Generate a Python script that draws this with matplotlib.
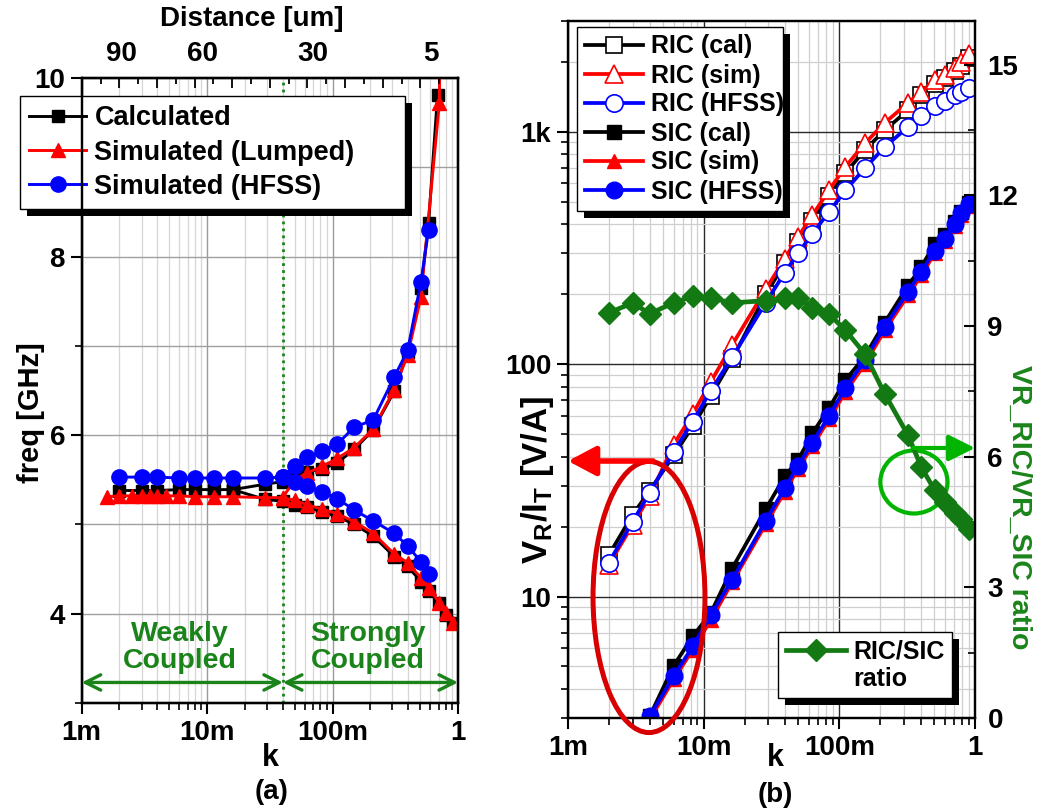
import numpy as np
import matplotlib
matplotlib.use('Agg')
import matplotlib.pyplot as plt
from matplotlib.ticker import (FixedLocator, FuncFormatter, MultipleLocator,
                               LogLocator, NullFormatter, NullLocator)
from matplotlib.patches import Ellipse, Rectangle
from matplotlib.lines import Line2D
from matplotlib.transforms import IdentityTransform

plt.rcParams['font.family'] = ['Liberation Sans', 'DejaVu Sans']
plt.rcParams['font.weight'] = 'bold'
plt.rcParams['mathtext.fontset'] = 'custom'
plt.rcParams['mathtext.rm'] = 'Liberation Sans:bold'
plt.rcParams['mathtext.bf'] = 'Liberation Sans:bold'
plt.rcParams['mathtext.it'] = 'Liberation Sans:bold'

# ---------------- Panel (a) data ----------------
calc_flat_k = [0.002, 0.003, 0.004, 0.006, 0.008, 0.0113, 0.016]
calc_flat_f = [5.38, 5.38, 5.38, 5.39, 5.39, 5.39, 5.39]
calc_up_k = [0.016, 0.029, 0.040, 0.050, 0.063, 0.083, 0.109, 0.149, 0.211, 0.310, 0.397, 0.507, 0.583, 0.687]
calc_up_f = [5.39, 5.45, 5.48, 5.52, 5.59, 5.62, 5.69, 5.84, 6.06, 6.49, 6.93, 7.65, 8.38, 9.81]
calc_lo_k = [0.016, 0.029, 0.040, 0.050, 0.063, 0.083, 0.109, 0.149, 0.211, 0.310, 0.397, 0.507, 0.583, 0.710, 0.800, 0.920]
calc_lo_f = [5.39, 5.28, 5.26, 5.22, 5.19, 5.14, 5.09, 5.00, 4.87, 4.64, 4.53, 4.36, 4.25, 4.12, 3.99, 3.90]

sim_flat_k = [0.0016, 0.002, 0.0025, 0.003, 0.0035, 0.004, 0.0047, 0.006, 0.008, 0.0113, 0.016, 0.029, 0.040]
sim_flat_f = [5.31, 5.32, 5.32, 5.32, 5.32, 5.32, 5.32, 5.32, 5.31, 5.31, 5.31, 5.30, 5.30]
sim_up_k = [0.040, 0.050, 0.063, 0.083, 0.109, 0.149, 0.211, 0.310, 0.397, 0.507, 0.710, 0.728]
sim_up_f = [5.30, 5.50, 5.58, 5.65, 5.74, 5.86, 6.07, 6.51, 6.90, 7.55, 9.72, 11.5]
sim_lo_k = [0.040, 0.050, 0.063, 0.083, 0.109, 0.149, 0.211, 0.310, 0.397, 0.507, 0.583, 0.710, 0.800, 0.920]
sim_lo_f = [5.30, 5.27, 5.22, 5.17, 5.12, 5.03, 4.90, 4.67, 4.57, 4.40, 4.29, 4.12, 4.01, 3.90]

hfss_flat_k = [0.002, 0.003, 0.004, 0.006, 0.008, 0.0113, 0.016, 0.029, 0.040]
hfss_flat_f = [5.53, 5.53, 5.53, 5.52, 5.52, 5.52, 5.52, 5.52, 5.53]
hfss_up_k = [0.040, 0.050, 0.063, 0.083, 0.109, 0.149, 0.211, 0.310, 0.397, 0.507, 0.583]
hfss_up_f = [5.53, 5.66, 5.75, 5.82, 5.90, 6.09, 6.17, 6.65, 6.95, 7.72, 8.30]
hfss_lo_k = [0.040, 0.050, 0.063, 0.083, 0.109, 0.149, 0.211, 0.310, 0.397, 0.507, 0.590]
hfss_lo_f = [5.53, 5.47, 5.43, 5.36, 5.29, 5.16, 5.04, 4.90, 4.76, 4.58, 4.44]

boundary_k = 0.0402
top_tick_k = [0.00208, 0.0092, 0.0697, 0.605]
top_tick_labels = ['90', '60', '30', '5']

# ---------------- Panel (b) data ----------------
kk = [0.002, 0.003, 0.004, 0.006, 0.0083, 0.0113, 0.0162, 0.0287, 0.0396, 0.0497, 0.0634,
      0.084, 0.111, 0.154, 0.216, 0.321, 0.402, 0.504, 0.597, 0.708, 0.792, 0.91]
ric_cal = [15.1, 22.5, 28.5, 40.5, 54, 73, 105, 200, 272, 335, 415, 530, 665, 835, 1016, 1240,
           1440, 1600, 1700, 1820, 1930, 2080]
ric_sim = [13.7, 20.4, 27, 45, 61, 84, 121, 210, 285, 353, 438, 561, 708, 891, 1093, 1333,
           1486, 1668, 1753, 1874, 2000, 2173]
ric_hfss = [14.0, 21, 28, 42, 56.6, 77, 107, 184, 248, 300, 365, 453, 561, 697, 861, 1050,
            1169, 1290, 1360, 1440, 1486, 1537]
sic_k = [0.004, 0.006, 0.0083, 0.0113, 0.0162, 0.0287, 0.0396, 0.0497, 0.0634, 0.084, 0.111,
         0.154, 0.216, 0.321, 0.402, 0.504, 0.597, 0.708, 0.792, 0.91]
sic_cal = [3.05, 5.03, 6.73, 8.5, 13.2, 23.8, 32.9, 38.7, 50.5, 64.7, 85.5, 108, 151, 218, 262,
           330, 360, 410, 450, 492]
sic_sim = [2.95, 4.40, 5.9, 7.94, 11.5, 20.5, 28.3, 35.5, 44.5, 58, 76, 100, 140, 198, 242,
           300, 340, 393, 438, 480]
sic_hfss = [3.05, 4.53, 6.1, 8.34, 11.8, 21.2, 29.3, 36.6, 46, 59.9, 78.8, 104, 145, 205, 250,
            308, 347, 401, 446, 489]
ratio = [9.30, 9.53, 9.28, 9.53, 9.68, 9.64, 9.53, 9.58, 9.64, 9.64, 9.42, 9.27, 8.90, 8.36,
         7.44, 6.49, 5.76, 5.23, 4.95, 4.70, 4.57, 4.33]

GREEN = '#1a841a'
DKGREEN = '#137a13'
W, H = 1037, 811


def kfmt(v, pos=None):
    if v < 1:
        return f'{v*1000:g}m'
    if v >= 1000:
        return f'{v/1000:g}k'
    return f'{v:g}'


fig = plt.figure(figsize=(W / 100, H / 100), dpi=100)
axA = fig.add_axes([81.7 / W, 1 - 703 / H, (458 - 81.7) / W, (703 - 78) / H])
axB = fig.add_axes([568 / W, 1 - 718 / H, (975 - 568) / W, (718 - 21) / H])

# ================= Panel (a) =================
axA.set_xscale('log')
axA.set_xlim(1e-3, 1)
axA.set_ylim(3, 10)
axA.set_axisbelow(True)
axA.xaxis.set_major_locator(LogLocator(base=10, numticks=10))
axA.xaxis.set_minor_locator(LogLocator(base=10, subs=np.arange(2, 10), numticks=10))
axA.xaxis.set_major_formatter(FuncFormatter(kfmt))
axA.xaxis.set_minor_formatter(NullFormatter())
axA.yaxis.set_major_locator(MultipleLocator(2))
axA.yaxis.set_minor_locator(MultipleLocator(1))
axA.grid(which='major', axis='x', color='#9a9a9a', lw=1.0)
axA.grid(which='minor', axis='x', color='#d6d6d6', lw=0.9)
axA.grid(which='both', axis='y', color='#a0a0a0', lw=1.0)
axA.tick_params(which='major', direction='out', length=8, width=1.5, labelsize=20, pad=4)
axA.tick_params(which='minor', direction='out', length=5, width=1.2)
for s in axA.spines.values():
    s.set_linewidth(1.6)

axA.axvline(boundary_k, color=GREEN, lw=2, ls=(0, (1, 1.5)), zorder=1.5)

lw_a = 2.1
sty_c = dict(color='black', marker='s', ms=9, lw=lw_a)
sty_s = dict(color='red', marker='^', ms=10.5, lw=lw_a)
sty_h = dict(color='blue', marker='o', ms=11, lw=lw_a)
axA.plot(calc_flat_k, calc_flat_f, label='Calculated', **sty_c)
axA.plot(calc_up_k, calc_up_f, **sty_c)
axA.plot(calc_lo_k, calc_lo_f, **sty_c)
axA.plot(sim_flat_k, sim_flat_f, label='Simulated (Lumped)', **sty_s)
axA.plot(sim_up_k, sim_up_f, **sty_s)
axA.plot(sim_lo_k, sim_lo_f, **sty_s)
axA.plot(hfss_flat_k, hfss_flat_f, label='Simulated (HFSS)', **sty_h)
axA.plot(hfss_up_k, hfss_up_f, **sty_h)
axA.plot(hfss_lo_k, hfss_lo_f, **sty_h)

# coupling arrows and texts
arr = dict(arrowstyle='<->,head_length=1.1,head_width=0.55', color=GREEN, lw=2.4,
           shrinkA=0, shrinkB=0)
axA.annotate('', xy=(1e-3, 3.23), xytext=(boundary_k, 3.23), arrowprops=arr)
axA.annotate('', xy=(1.0, 3.23), xytext=(boundary_k, 3.23), arrowprops=arr)
axA.text(0.00607, 3.62, 'Weakly\nCoupled', color=GREEN, fontsize=20.5, ha='center',
         va='center', linespacing=1.05)
axA.text(0.19, 3.62, 'Strongly\nCoupled', color=GREEN, fontsize=20.5, ha='center',
         va='center', linespacing=1.05)

# top distance axis
twA = axA.twiny()
twA.set_xscale('log')
twA.set_xlim(1e-3, 1)
twA.xaxis.set_major_locator(FixedLocator(top_tick_k))
twA.xaxis.set_major_formatter(FuncFormatter(
    lambda v, p: top_tick_labels[p] if p is not None and p < len(top_tick_labels) else ''))
long_ticks = [10 ** (-3 + 0.3 * i) for i in range(11)]
twA.xaxis.set_minor_locator(FixedLocator(long_ticks))
twA.xaxis.set_minor_formatter(NullFormatter())
twA.tick_params(which='major', length=0, labelsize=20, pad=8)
twA.tick_params(which='minor', direction='in', length=7, width=1.3)
twB = axA.twiny()
twB.set_xscale('log')
twB.set_xlim(1e-3, 1)
twB.xaxis.set_major_locator(NullLocator())
short_ticks = [10 ** (-2.85 + 0.3 * i) for i in range(10)]
twB.xaxis.set_minor_locator(FixedLocator(short_ticks))
twB.xaxis.set_minor_formatter(NullFormatter())
twB.tick_params(which='minor', direction='in', length=4, width=1.3)
for t in (twA, twB):
    for s in t.spines.values():
        s.set_linewidth(1.6)

fig.text(252 / W, 1 - 19 / H, 'Distance [um]', fontsize=20, ha='center', va='center')
fig.text(31 / W, 1 - 413 / H, 'freq [GHz]', fontsize=21, rotation=90, ha='center', va='center')
fig.text(270 / W, 1 - 758 / H, 'k', fontsize=22, ha='center', va='center')
fig.text(272 / W, 1 - 792 / H, '(a)', fontsize=20, ha='center', va='center')

legA = axA.legend(loc='upper left', bbox_to_anchor=(20 / W, 1 - 210 / H, 385 / W, 114 / H),
                  bbox_transform=fig.transFigure, mode='expand', borderaxespad=0,
                  fontsize=19.5, fancybox=False, framealpha=1, edgecolor='black',
                  handlelength=2.1, handletextpad=0.3, labelspacing=0.3, borderpad=0.35)
legA.get_frame().set_linewidth(1.0)

# ================= Panel (b) =================
axB2 = axB.twinx()

axB.set_xscale('log')
axB.set_yscale('log')
axB.set_xlim(1e-3, 1)
axB.set_ylim(3, 3000)
axB.set_axisbelow(True)
axB.xaxis.set_major_locator(LogLocator(base=10, numticks=10))
axB.xaxis.set_minor_locator(LogLocator(base=10, subs=np.arange(2, 10), numticks=10))
axB.xaxis.set_major_formatter(FuncFormatter(kfmt))
axB.xaxis.set_minor_formatter(NullFormatter())
axB.yaxis.set_major_locator(FixedLocator([10, 100, 1000]))
axB.yaxis.set_minor_locator(LogLocator(base=10, subs=np.arange(2, 10), numticks=10))
axB.yaxis.set_major_formatter(FuncFormatter(kfmt))
axB.yaxis.set_minor_formatter(NullFormatter())
axB.grid(which='major', color='#2a2a2a', lw=1.0)
axB.grid(which='minor', color='#cfcfcf', lw=0.9)
axB.tick_params(which='major', direction='out', length=8, width=1.5, labelsize=20, pad=4)
axB.tick_params(which='minor', direction='out', length=5, width=1.2)
for s in axB.spines.values():
    s.set_linewidth(1.6)

axB2.set_ylim(0, 16)
axB2.yaxis.set_major_locator(MultipleLocator(3))
axB2.yaxis.set_minor_locator(MultipleLocator(1.5))
axB2.tick_params(which='major', direction='in', length=8, width=1.5, labelsize=20, pad=9)
axB2.tick_params(which='minor', direction='in', length=5, width=1.2)
for s in axB2.spines.values():
    s.set_linewidth(1.6)

lw_b = 2.7
axB.plot(kk, ric_cal, color='black', marker='s', ms=11, mfc='white', mew=1.2, lw=lw_b, label='RIC (cal)')
axB.plot(kk, ric_sim, color='red', marker='^', ms=13, mfc='white', mew=1.2, lw=lw_b, label='RIC (sim)')
axB.plot(kk, ric_hfss, color='blue', marker='o', ms=12.5, mfc='white', mew=1.2, lw=lw_b, label='RIC (HFSS)')
axB.plot(sic_k, sic_cal, color='black', marker='s', ms=10.5, lw=lw_b, label='SIC (cal)')
axB.plot(sic_k, sic_sim, color='red', marker='^', ms=10.5, lw=lw_b, label='SIC (sim)')
axB.plot(sic_k, sic_hfss, color='blue', marker='o', ms=12, lw=lw_b, label='SIC (HFSS)')

axB2.plot(kk, ratio, color=DKGREEN, marker='D', ms=11, lw=3.4, zorder=2)

# annotations
axB2.add_patch(Ellipse((0.199, 0.1736), 0.275, 0.389, transform=axB2.transAxes, fill=False,
                       edgecolor='#d80000', lw=3.6, clip_on=False, zorder=4))
axB2.annotate('', xy=(0.0, 0.3687), xytext=(0.209, 0.3687), xycoords='axes fraction',
              arrowprops=dict(arrowstyle='-|>,head_length=1.7,head_width=0.9', color='red',
                              lw=4, shrinkA=0, shrinkB=0), zorder=4)
axB2.add_patch(Ellipse((0.850, 0.3386), 0.165, 0.0904, transform=axB2.transAxes, fill=False,
                       edgecolor='#00b400', lw=3, clip_on=False, zorder=1.5))
axB2.annotate('', xy=(1.0, 0.3874), xytext=(0.848, 0.3874), xycoords='axes fraction',
              arrowprops=dict(arrowstyle='-|>,head_length=1.6,head_width=0.8', color='#00b400',
                              lw=3, shrinkA=0, shrinkB=0), zorder=4)

legB = axB2.legend(*axB.get_legend_handles_labels(), loc='upper left',
                   bbox_to_anchor=(577 / W, 1 - 221 / H, 206 / W, 194 / H),
                   bbox_transform=fig.transFigure, mode='expand', borderaxespad=0,
                   fontsize=18, fancybox=False, framealpha=1, edgecolor='black',
                   handlelength=2.35, handletextpad=0.3, labelspacing=0.2, borderpad=0.3)
legB.get_frame().set_linewidth(1.0)
axB2.add_artist(legB)
proxy = [Line2D([], [], color=DKGREEN, marker='D', ms=11, lw=3.4),
         Line2D([], [], lw=0, marker=None)]
legR = axB2.legend(proxy, ['RIC/SIC', 'ratio'], loc='upper left',
                   bbox_to_anchor=(778 / W, 1 - 697 / H, 174 / W, 65 / H),
                   bbox_transform=fig.transFigure, mode='expand', borderaxespad=0,
                   fontsize=18, fancybox=False, framealpha=1, edgecolor='black',
                   handlelength=2.4, handletextpad=0.3, labelspacing=0.12, borderpad=0.3)
legR.get_frame().set_linewidth(1.0)

fig.text(537 / W, 1 - 480 / H, r'$\mathbf{V_R/I_T}$ [V/A]', fontsize=25, rotation=90,
         ha='center', va='center')
fig.text(1019 / W, 1 - 507 / H, 'VR_RIC/VR_SIC ratio', fontsize=20.5, rotation=270,
         ha='center', va='center', color=GREEN)
fig.text(775 / W, 1 - 758 / H, 'k', fontsize=22, ha='center', va='center')
fig.text(775 / W, 1 - 795 / H, '(b)', fontsize=20, ha='center', va='center')

# legend drop shadows
fig.canvas.draw()
for ax, leg in ((axA, legA), (axB2, legB), (axB2, legR)):
    bb = leg.get_frame().get_window_extent()
    ax.add_artist(Rectangle((bb.x0 + 7, bb.y0 - 7), bb.width, bb.height,
                            transform=IdentityTransform(), facecolor='black',
                            edgecolor='none', zorder=leg.get_zorder() - 0.05, clip_on=False))

fig.savefig('out.png', dpi=100)
